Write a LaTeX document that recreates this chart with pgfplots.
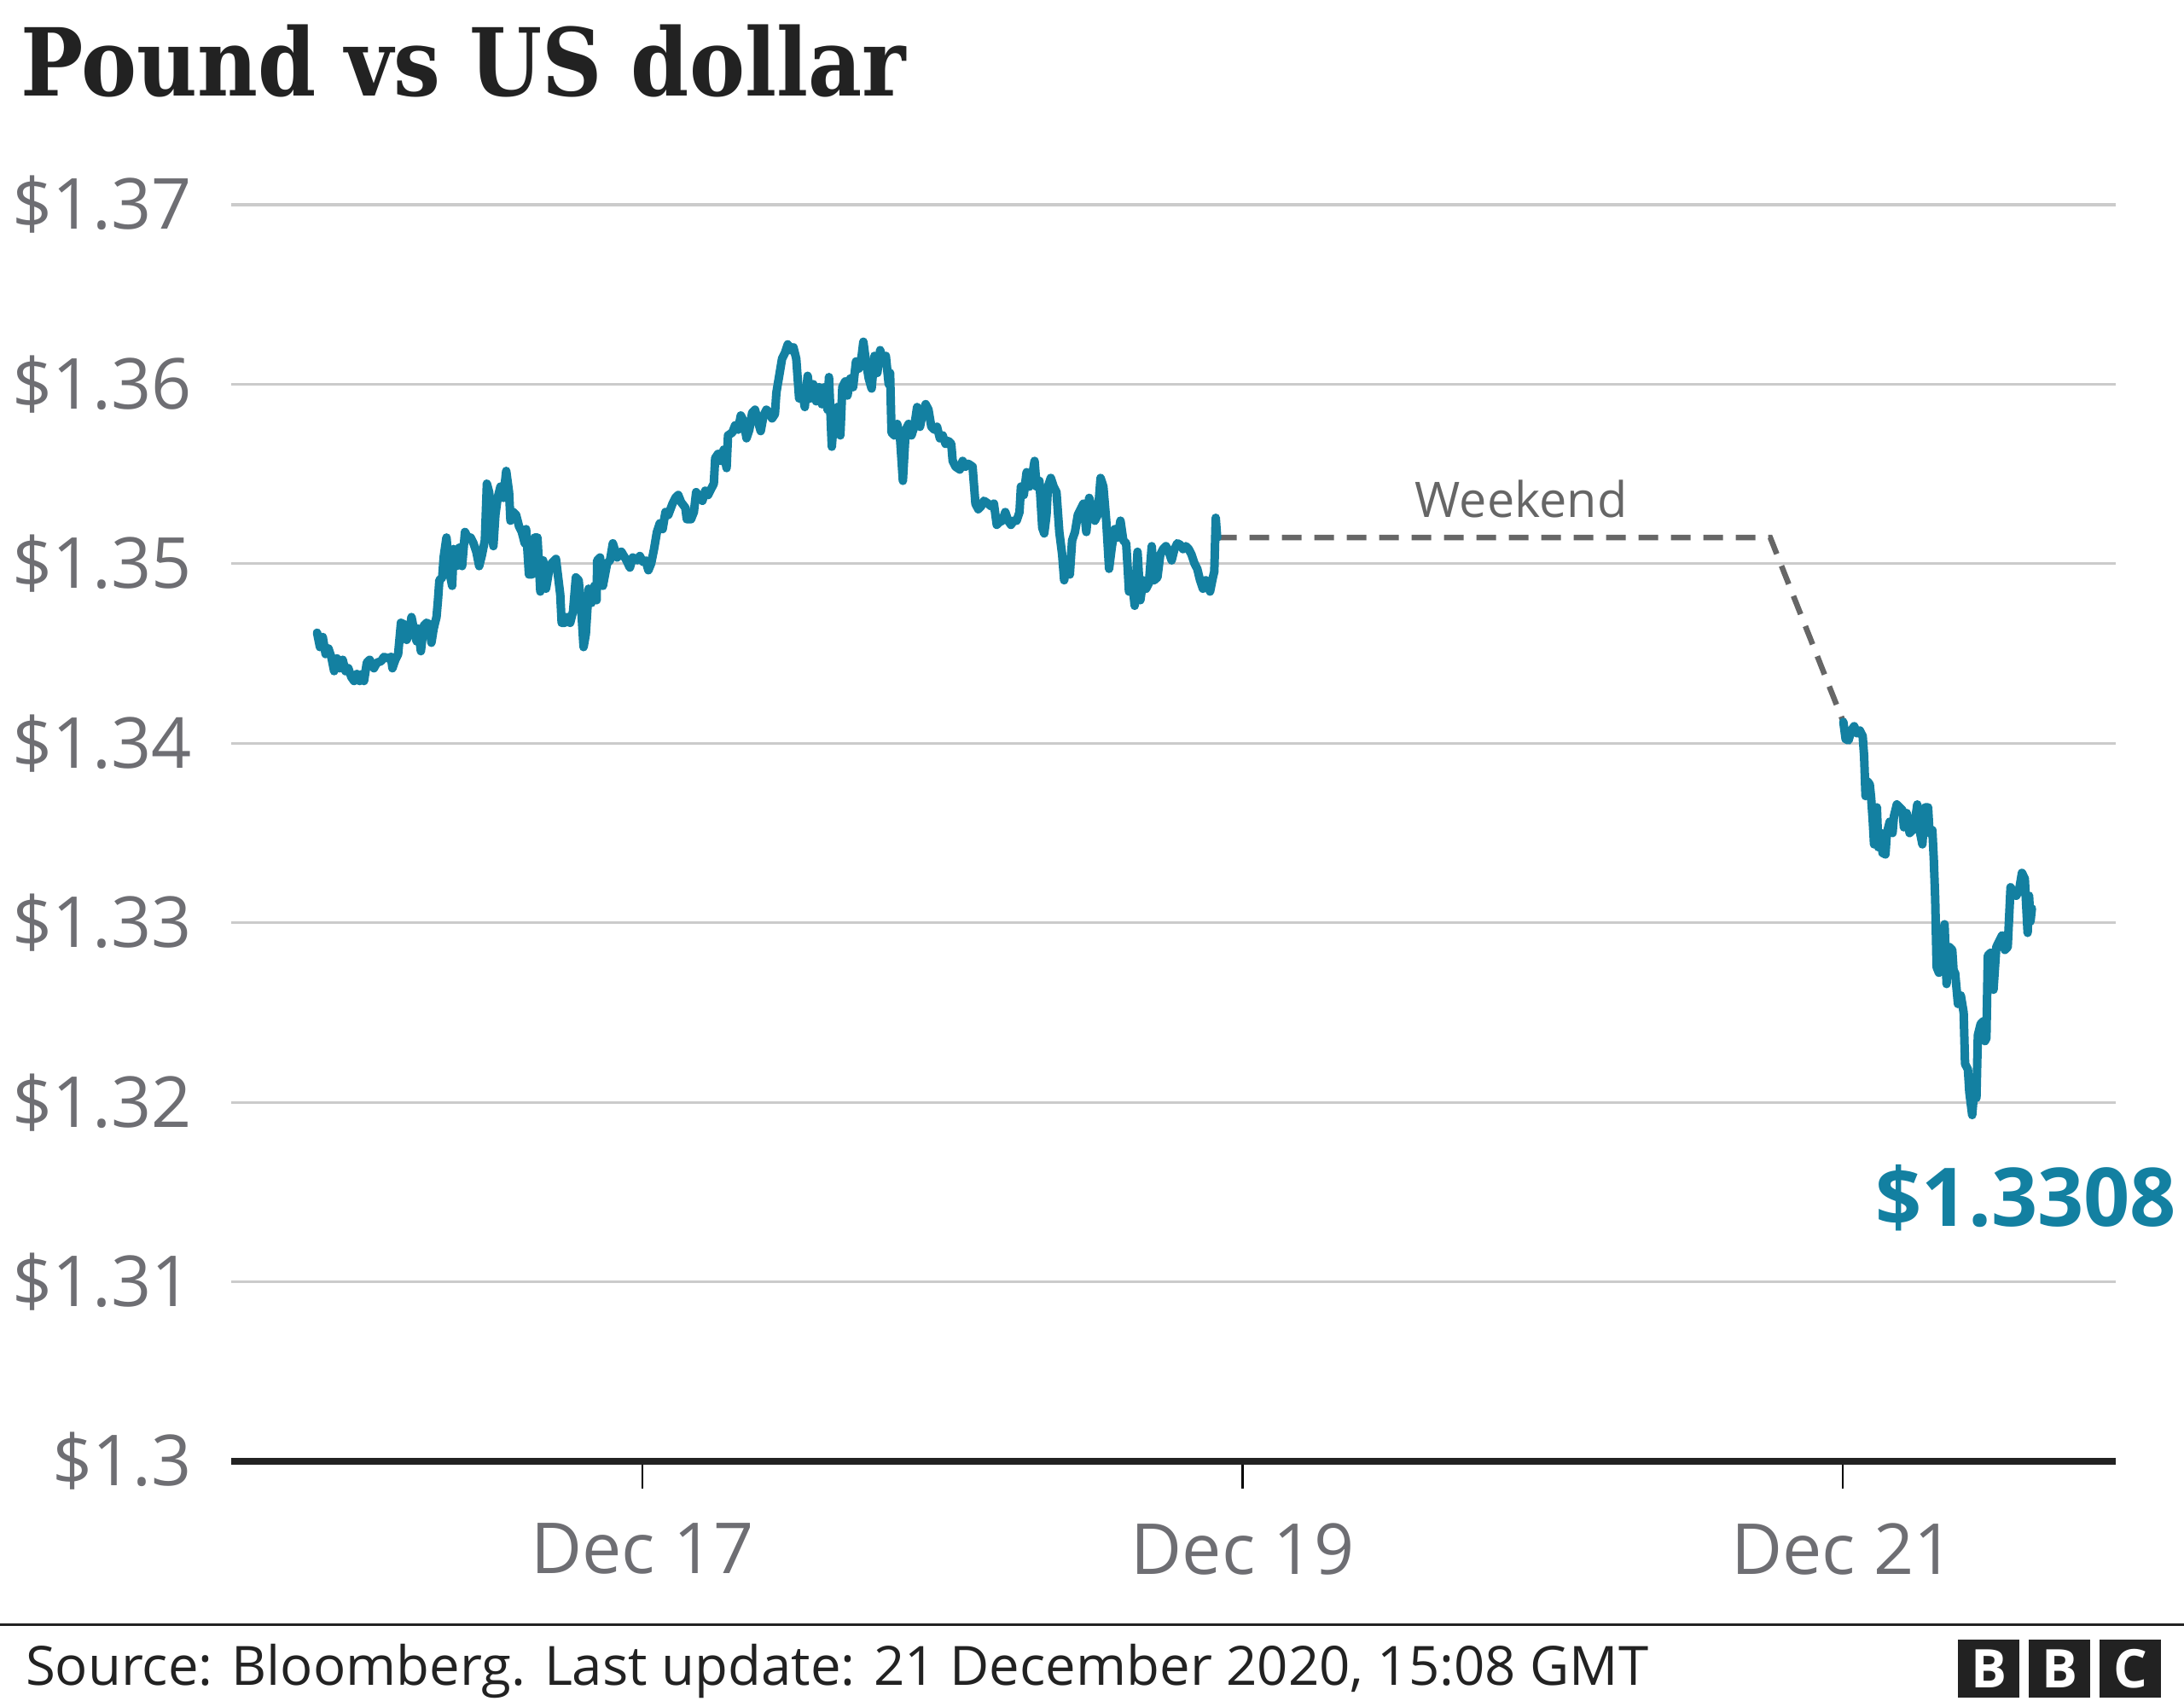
\documentclass[border=0pt]{standalone}
\usepackage{pgfplots}
\pgfplotsset{compat=1.18}
\usepackage{fontspec}
\setmainfont{Open Sans}
\newfontfamily\titlefont{DejaVu Serif}
\definecolor{bbcteal}{HTML}{1380A1}
\definecolor{gridgray}{HTML}{CBCBCB}
\definecolor{labelgray}{HTML}{6E6E73}
\definecolor{darkgray}{HTML}{222222}
\definecolor{dashgray}{HTML}{666666}
\begin{document}
\begin{tikzpicture}
\path[use as bounding box, fill=white] (0,0) rectangle (512pt,400pt);
\begin{axis}[
  at={(54.2pt,57.4pt)}, anchor=south west,
  scale only axis, width=441.8pt, height=294.6pt,
  xmin=15.6297, xmax=21.9097, ymin=1.30, ymax=1.37,
  axis x line*=bottom, axis y line*=left,
  axis line style={-},
  x axis line style={darkgray, line width=1.6pt, -},
  y axis line style={draw=none},
  xtick={17,19,21}, xticklabels={Dec 17,Dec 19,Dec 21},
  ytick={1.30,1.31,1.32,1.33,1.34,1.35,1.36,1.37},
  yticklabels={\$1.3,\$1.31,\$1.32,\$1.33,\$1.34,\$1.35,\$1.36,\$1.37},
  tick align=outside, major tick length=6.4pt,
  x tick style={black, line width=0.5pt},
  y tick style={draw=none},
  ymajorgrids, major grid style={gridgray, line width=0.65pt},
  ticklabel style={font=\fontsize{16.5}{19}\selectfont, text=labelgray},
  yticklabel style={anchor=east, inner sep=0pt, xshift=-2.6pt},
  xticklabel style={anchor=north, inner sep=0pt, yshift=-8pt},
]
\addplot[dashgray, line width=1.3pt, dash pattern=on 4.6pt off 3pt] coordinates {
(18.9152,1.35146) (20.7584,1.35146) (21.0019,1.34119)};
\addplot[bbcteal, line width=2pt, line join=round, line cap=round] coordinates {
(15.9159,1.34616) (15.9254,1.34536) (15.9348,1.34592) (15.9443,1.34497) (15.9538,1.34528)
(15.9633,1.34481) (15.9728,1.34402) (15.9822,1.34473) (15.9917,1.34418) (16.0012,1.34465)
(16.0107,1.34402) (16.0201,1.34418) (16.0296,1.34370) (16.0391,1.34347) (16.0486,1.34386)
(16.0581,1.34347) (16.0675,1.34386) (16.0723,1.34347) (16.0817,1.34449) (16.0912,1.34465)
(16.1054,1.34418) (16.1149,1.34449) (16.1291,1.34457) (16.1386,1.34481) (16.1528,1.34473)
(16.1623,1.34481) (16.1670,1.34418) (16.1765,1.34465) (16.1860,1.34497) (16.1954,1.34671)
(16.2049,1.34663) (16.2144,1.34576) (16.2239,1.34623) (16.2305,1.34703) (16.2381,1.34639)
(16.2476,1.34568) (16.2523,1.34639) (16.2618,1.34513) (16.2713,1.34655) (16.2807,1.34671)
(16.2902,1.34663) (16.2969,1.34560) (16.3044,1.34639) (16.3139,1.34703) (16.3187,1.34797)
(16.3234,1.34908) (16.3329,1.34924) (16.3376,1.35035) (16.3471,1.35146) (16.3566,1.34956)
(16.3660,1.34877) (16.3708,1.35082) (16.3802,1.34987) (16.3897,1.35090) (16.3992,1.34987)
(16.4087,1.35177) (16.4182,1.35146) (16.4276,1.35146) (16.4371,1.35114) (16.4466,1.35067)
(16.4561,1.34987) (16.4655,1.35051) (16.4750,1.35130) (16.4817,1.35446) (16.4892,1.35399)
(16.4968,1.35272) (16.5034,1.35098) (16.5101,1.35272) (16.5176,1.35367) (16.5271,1.35430)
(16.5366,1.35367) (16.5461,1.35517) (16.5556,1.35399) (16.5603,1.35240) (16.5698,1.35288)
(16.5792,1.35272) (16.5887,1.35209) (16.5982,1.35177) (16.6077,1.35114) (16.6124,1.35193)
(16.6219,1.34940) (16.6314,1.34940) (16.6409,1.35146) (16.6503,1.35146) (16.6598,1.34845)
(16.6693,1.35019) (16.6788,1.34861) (16.6882,1.34956) (16.6977,1.35003) (16.7119,1.35027)
(16.7262,1.34829) (16.7309,1.34671) (16.7404,1.34671) (16.7498,1.34703) (16.7593,1.34671)
(16.7688,1.34734) (16.7783,1.34924) (16.7877,1.34908) (16.7972,1.34718) (16.8039,1.34536)
(16.8114,1.34608) (16.8209,1.34861) (16.8304,1.34782) (16.8399,1.34877) (16.8474,1.34797)
(16.8493,1.35019) (16.8588,1.35035) (16.8683,1.34877) (16.8825,1.35003) (16.8920,1.35019)
(16.9015,1.35114)
(16.9157,1.35035) (16.9299,1.35067) (16.9441,1.35027) (16.9583,1.34979) (16.9678,1.35035)
(16.9820,1.35019) (16.9915,1.35043) (17.0010,1.35011) (17.0104,1.35019) (17.0199,1.34964)
(17.0294,1.35003) (17.0388,1.35082) (17.0483,1.35177) (17.0578,1.35225) (17.0673,1.35193)
(17.0768,1.35288) (17.0862,1.35272) (17.1004,1.35335) (17.1099,1.35367) (17.1194,1.35383)
(17.1289,1.35343) (17.1431,1.35312) (17.1478,1.35248) (17.1620,1.35248) (17.1715,1.35288)
(17.1791,1.35399) (17.1905,1.35367) (17.2000,1.35351) (17.2094,1.35407) (17.2189,1.35383)
(17.2284,1.35415) (17.2379,1.35446) (17.2426,1.35589) (17.2521,1.35612) (17.2616,1.35573)
(17.2710,1.35636) (17.2805,1.35533) (17.2853,1.35715) (17.2995,1.35731) (17.3089,1.35771)
(17.3184,1.35747) (17.3279,1.35826) (17.3374,1.35794) (17.3469,1.35699) (17.3563,1.35747)
(17.3658,1.35842) (17.3753,1.35858) (17.3848,1.35794) (17.3942,1.35739) (17.4037,1.35826)
(17.4132,1.35858) (17.4227,1.35842) (17.4321,1.35810) (17.4416,1.35834) (17.4464,1.35953)
(17.4558,1.36047) (17.4653,1.36142) (17.4748,1.36174) (17.4843,1.36222) (17.4937,1.36190)
(17.5032,1.36206) (17.5127,1.36142) (17.5222,1.35921) (17.5316,1.35968) (17.5411,1.35873)
(17.5506,1.36047) (17.5601,1.35921) (17.5696,1.36000) (17.5790,1.35905) (17.5885,1.35984)
(17.5980,1.35889) (17.6075,1.35984) (17.6169,1.35858) (17.6217,1.36040) (17.6311,1.35652)
(17.6406,1.35858) (17.6501,1.35873) (17.6596,1.35715) (17.6662,1.35984) (17.6757,1.36016)
(17.6833,1.35937) (17.6927,1.36032) (17.7022,1.35984) (17.7117,1.36127) (17.7212,1.36087)
(17.7306,1.36158) (17.7363,1.36237) (17.7448,1.36127) (17.7543,1.36032) (17.7638,1.35976)
(17.7733,1.36158) (17.7828,1.36063) (17.7922,1.36190) (17.8017,1.36127) (17.8112,1.36158)
(17.8207,1.36000) (17.8254,1.36063) (17.8301,1.35731) (17.8396,1.35715) (17.8491,1.35779)
(17.8586,1.35699) (17.8680,1.35462) (17.8775,1.35747) (17.8870,1.35779) (17.8965,1.35715)
(17.9059,1.35763) (17.9154,1.35873) (17.9249,1.35763) (17.9344,1.35842) (17.9439,1.35889)
(17.9533,1.35858) (17.9628,1.35763) (17.9723,1.35747) (17.9818,1.35763) (17.9912,1.35699)
(18.0007,1.35715) (18.0102,1.35668) (18.0197,1.35684) (18.0291,1.35668) (18.0339,1.35573)
(18.0434,1.35541) (18.0576,1.35525) (18.0671,1.35573) (18.0765,1.35541) (18.0860,1.35557)
(18.1002,1.35541) (18.1097,1.35335) (18.1192,1.35304) (18.1286,1.35320) (18.1381,1.35351)
(18.1523,1.35335) (18.1618,1.35320) (18.1713,1.35335) (18.1808,1.35217) (18.1902,1.35233)
(18.1997,1.35240) (18.2092,1.35288) (18.2187,1.35240) (18.2281,1.35217) (18.2376,1.35240)
(18.2471,1.35240) (18.2566,1.35288) (18.2613,1.35430) (18.2708,1.35383) (18.2803,1.35510)
(18.2897,1.35430) (18.2992,1.35494) (18.3068,1.35573) (18.3134,1.35430) (18.3229,1.35462)
(18.3324,1.35201) (18.3390,1.35169) (18.3466,1.35272) (18.3513,1.35430) (18.3608,1.35478)
(18.3703,1.35430) (18.3798,1.35399) (18.3893,1.35177) (18.3987,1.35051) (18.4054,1.34908)
(18.4148,1.35019) (18.4243,1.34940) (18.4319,1.35130) (18.4414,1.35177) (18.4509,1.35272)
(18.4603,1.35304) (18.4698,1.35335) (18.4793,1.35177) (18.4888,1.35367) (18.4982,1.35304)
(18.5077,1.35240) (18.5172,1.35272) (18.5267,1.35478) (18.5361,1.35430) (18.5456,1.35240)
(18.5551,1.34972) (18.5646,1.35098) (18.5741,1.35193) (18.5835,1.35146) (18.5930,1.35240)
(18.6025,1.35130) (18.6120,1.35114) (18.6167,1.34987) (18.6214,1.34845) (18.6309,1.34924)
(18.6404,1.34766) (18.6499,1.35067) (18.6593,1.34797) (18.6688,1.34908) (18.6783,1.34861)
(18.6878,1.34892) (18.6972,1.35098) (18.7048,1.34908) (18.7162,1.34924) (18.7257,1.35051)
(18.7351,1.35082) (18.7446,1.35098) (18.7541,1.35067) (18.7636,1.35019) (18.7730,1.35082)
(18.7825,1.35114) (18.7920,1.35106) (18.8015,1.35082) (18.8109,1.35098) (18.8204,1.35082)
(18.8299,1.35051) (18.8394,1.35003) (18.8489,1.34972) (18.8583,1.34908) (18.8678,1.34861)
(18.8773,1.34908) (18.8868,1.34892) (18.8915,1.34845) (18.9010,1.34924) (18.9057,1.34956)
(18.9105,1.35256) (18.9152,1.35146)
};
\addplot[bbcteal, line width=2pt, line join=round, line cap=round] coordinates {
(21.0019,1.34119) (21.0095,1.34024) (21.0190,1.34016) (21.0284,1.34071) (21.0379,1.34095)
(21.0474,1.34056) (21.0569,1.34071) (21.0663,1.34040) (21.0711,1.33929) (21.0758,1.33706)
(21.0834,1.33786) (21.0900,1.33770) (21.0948,1.33690) (21.0995,1.33579) (21.1042,1.33437)
(21.1137,1.33643) (21.1185,1.33421) (21.1279,1.33500) (21.1327,1.33389) (21.1421,1.33381)
(21.1469,1.33500) (21.1564,1.33563) (21.1658,1.33500) (21.1706,1.33595) (21.1801,1.33659)
(21.1895,1.33643) (21.1990,1.33627) (21.2037,1.33532) (21.2132,1.33611) (21.2227,1.33500)
(21.2322,1.33516) (21.2417,1.33579) (21.2483,1.33659) (21.2559,1.33516) (21.2653,1.33437)
(21.2701,1.33563) (21.2748,1.33643) (21.2843,1.33643) (21.2890,1.33500) (21.2985,1.33516)
(21.3032,1.33357) (21.3080,1.33135) (21.3127,1.32754) (21.3203,1.32722) (21.3269,1.32738)
(21.3317,1.32881) (21.3392,1.32992) (21.3459,1.32659) (21.3506,1.32817) (21.3554,1.32865)
(21.3648,1.32849) (21.3696,1.32722) (21.3743,1.32722) (21.3838,1.32548) (21.3933,1.32595)
(21.4028,1.32500) (21.4075,1.32214) (21.4170,1.32183) (21.4217,1.32056) (21.4312,1.31929)
(21.4359,1.32024) (21.4454,1.32024) (21.4501,1.32373) (21.4596,1.32437) (21.4691,1.32452)
(21.4738,1.32341) (21.4786,1.32357) (21.4833,1.32817) (21.4928,1.32833) (21.5023,1.32627)
(21.5117,1.32865) (21.5212,1.32897) (21.5307,1.32929) (21.5402,1.32849) (21.5496,1.32865)
(21.5591,1.33198) (21.5686,1.33167) (21.5781,1.33151) (21.5876,1.33183) (21.5970,1.33278)
(21.6065,1.33246) (21.6160,1.32944) (21.6207,1.33151) (21.6255,1.33008) (21.6302,1.33080)
};
\end{axis}
% title
\node[anchor=base west, inner sep=0pt, text=darkgray] at (4.8pt,377.4pt)
  {\scalebox{0.887}[1]{\titlefont\bfseries\fontsize{22}{26}\selectfont Pound vs US dollar}};
% annotations
\node[anchor=base, inner sep=0pt, text=dashgray] at (356.6pt,278.8pt)
  {\fontsize{11.5}{13}\selectfont Weekend};
\node[anchor=base east, inner sep=0pt, text=bbcteal] at (510.4pt,112.6pt)
  {\bfseries\fontsize{19}{22}\selectfont \$1.3308};
% footer
\draw[darkgray, line width=0.6pt] (0pt,19.2pt) -- (512pt,19.2pt);
\node[anchor=base west, inner sep=0pt, text=darkgray] at (5.8pt,5pt)
  {\fontsize{12.7}{14}\selectfont Source: Bloomberg. Last update: 21 December 2020, 15:08 GMT};
\foreach \x/\l in {459/B,475.6/B,492.2/C}{
  \fill[darkgray] (\x pt,2pt) rectangle ++(14.4pt,13.6pt);
  \node[text=white, inner sep=0pt] at (\x pt+7.2pt,8.8pt)
    {\bfseries\fontsize{12.5}{13}\selectfont \l};
}
\end{tikzpicture}
\end{document}
